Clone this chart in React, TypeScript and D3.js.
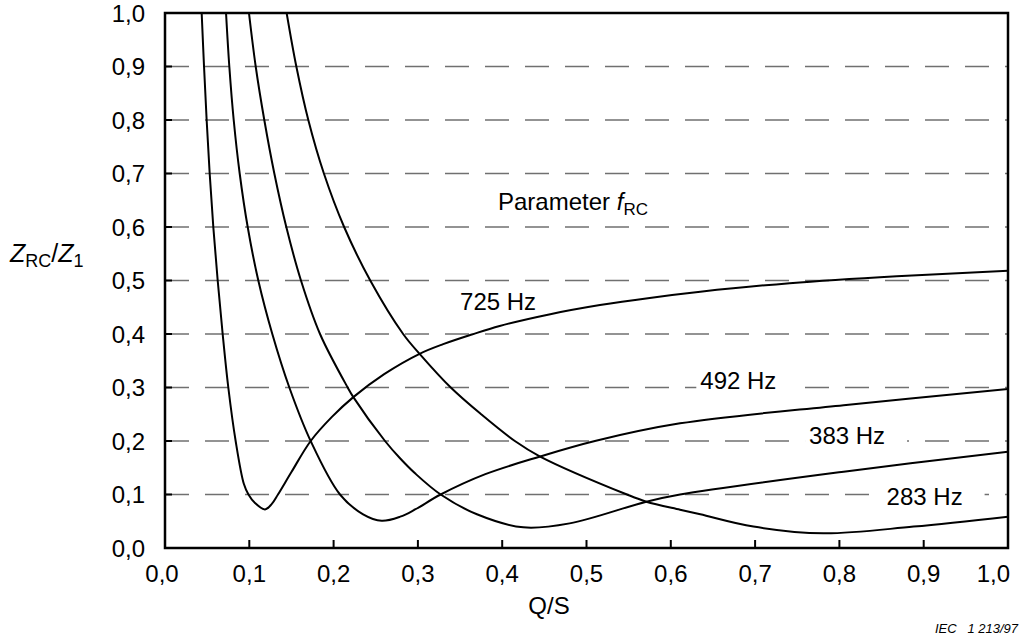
import React from 'react';
import * as d3 from 'd3';

// Q/S values and Z_RC/Z_1 values for each ripple-control frequency
const q725 = [0.0435, 0.0463, 0.0494, 0.053, 0.0573, 0.0625, 0.0684, 0.0751, 0.0838, 0.0935, 0.099, 0.1068, 0.1186, 0.1265, 0.134, 0.15, 0.1728, 0.198, 0.2234, 0.26, 0.302, 0.33, 0.364, 0.397, 0.457, 0.516, 0.575, 0.635, 0.741, 0.868, 1.0];
const z725 = [1.0, 0.9, 0.8, 0.7, 0.6, 0.5, 0.4, 0.3, 0.2, 0.12, 0.1, 0.084, 0.072, 0.082, 0.1, 0.142, 0.2, 0.245, 0.282, 0.325, 0.363, 0.381, 0.399, 0.415, 0.437, 0.454, 0.4675, 0.479, 0.495, 0.508, 0.518];

const q492 = [0.0724, 0.0763, 0.0815, 0.0886, 0.0981, 0.1107, 0.1273, 0.1475, 0.1728, 0.2076, 0.235, 0.257, 0.279, 0.2966, 0.327, 0.38, 0.445, 0.51, 0.611, 0.805, 1.0];
const z492 = [1.0, 0.9, 0.8, 0.7, 0.6, 0.5, 0.4, 0.3, 0.2, 0.1, 0.063, 0.051, 0.0586, 0.072, 0.1, 0.138, 0.171, 0.2, 0.233, 0.267, 0.297];

const q383 = [0.0996, 0.1076, 0.1178, 0.1297, 0.1439, 0.1613, 0.1839, 0.2167, 0.2234, 0.261, 0.2788, 0.2966, 0.327, 0.37, 0.425, 0.48, 0.571, 0.611, 0.805, 1.0];
const z383 = [1.0, 0.9, 0.8, 0.7, 0.6, 0.5, 0.4, 0.3, 0.282, 0.2, 0.1677, 0.1396, 0.1, 0.063, 0.0386, 0.046, 0.0866, 0.1, 0.1427, 0.18];

const q283 = [0.1443, 0.1558, 0.17, 0.1885, 0.2125, 0.2435, 0.2825, 0.302, 0.339, 0.375, 0.415, 0.445, 0.548, 0.571, 0.611, 0.635, 0.698, 0.781, 0.888, 1.0];
const z283 = [1.0, 0.9, 0.8, 0.7, 0.6, 0.5, 0.4, 0.363, 0.3, 0.25, 0.2, 0.171, 0.1, 0.0866, 0.0715, 0.063, 0.04, 0.0274, 0.04, 0.0586];

const series = [
  { name: '725 Hz', q: q725, z: z725, lq: 0.35, lz: 0.445 },
  { name: '492 Hz', q: q492, z: z492, lq: 0.635, lz: 0.297 },
  { name: '383 Hz', q: q383, z: z383, lq: 0.764, lz: 0.194 },
  { name: '283 Hz', q: q283, z: z283, lq: 0.856, lz: 0.08 },
];

const xTicks = [0, 0.1, 0.2, 0.3, 0.4, 0.5, 0.6, 0.7, 0.8, 0.9, 1.0];
const yTicks = [0, 0.1, 0.2, 0.3, 0.4, 0.5, 0.6, 0.7, 0.8, 0.9, 1.0];

const font = '"Liberation Sans", Arial, Helvetica, sans-serif';
const fmt = (v: number) => v.toFixed(1).replace('.', ',');

export default function App() {
  const W = 1023, H = 636;
  const m = { left: 165, right: 1008, top: 13, bottom: 548 };
  const x = d3.scaleLinear().domain([0, 1]).range([m.left, m.right]);
  const y = d3.scaleLinear().domain([0, 1]).range([m.bottom, m.top]);
  const line = d3.line<[number, number]>()
    .x(d => x(d[0]))
    .y(d => y(d[1]))
    .curve(d3.curveCatmullRom.alpha(0.5));

  const fs = 24;

  return (
    <svg width={W} height={H} style={{ position: 'absolute', left: 0, top: 0, display: 'block', background: '#fff' }}
      fontFamily={font}>
      <defs>
        <clipPath id="plot">
          <rect x={m.left} y={m.top} width={m.right - m.left} height={m.bottom - m.top} />
        </clipPath>
      </defs>

      {/* dashed grid */}
      {yTicks.filter(t => t > 0 && t < 1).map(t => (
        <line key={'g' + t} x1={m.left} x2={m.right} y1={y(t)} y2={y(t)}
          stroke="#707070" strokeWidth={1.4} strokeDasharray="24 16" />
      ))}

      {/* curve labels on a white backing */}
      {series.map(s => (
        <g key={s.name}>
          <rect x={x(s.lq) - 4} y={y(s.lz) - 20} width={102} height={25} fill="#fff" />
          <text x={x(s.lq)} y={y(s.lz)} fontSize={fs} fill="#000">{s.name}</text>
        </g>
      ))}
      <text x={x(0.395)} y={y(0.632)} fontSize={fs} fill="#000">
        Parameter <tspan fontStyle="italic">f</tspan><tspan fontSize={17} dy={5}>RC</tspan>
      </text>

      {/* curves */}
      <g clipPath="url(#plot)">
        {series.map(s => (
          <path key={'c' + s.name} d={line(s.q.map((q, i) => [q, s.z[i]] as [number, number])) || ''}
            fill="none" stroke="#000" strokeWidth={2} />
        ))}
      </g>

      {/* frame */}
      <rect x={m.left} y={m.top} width={m.right - m.left} height={m.bottom - m.top}
        fill="none" stroke="#000" strokeWidth={2.5} />

      {/* ticks */}
      {yTicks.filter(t => t > 0 && t < 1).map(t => (
        <line key={'yt' + t} x1={m.left} x2={m.left + 7} y1={y(t)} y2={y(t)} stroke="#000" strokeWidth={2} />
      ))}
      {xTicks.filter(t => t > 0 && t < 1).map(t => (
        <line key={'xt' + t} x1={x(t)} x2={x(t)} y1={m.bottom} y2={m.bottom - 8} stroke="#000" strokeWidth={2} />
      ))}

      {/* tick labels */}
      {yTicks.map(t => (
        <text key={'yl' + t} x={m.left - 20} y={y(t) + 8.5} textAnchor="end" fontSize={fs}>{fmt(t)}</text>
      ))}
      {xTicks.map(t => (
        <text key={'xl' + t} x={t === 1 ? x(t) + 2 : x(t) - (t === 0 ? 3 : 0)} y={582}
          textAnchor={t === 1 ? 'end' : 'middle'} fontSize={fs}>{fmt(t)}</text>
      ))}

      {/* axis titles */}
      <text x={549} y={614} textAnchor="middle" fontSize={fs}>Q/S</text>
      <text x={10} y={262} fontSize={25}>
        <tspan fontStyle="italic">Z</tspan>
        <tspan fontSize={18} dy={5}>RC</tspan>
        <tspan dy={-5}>/</tspan>
        <tspan fontStyle="italic">Z</tspan>
        <tspan fontSize={18} dy={5}>1</tspan>
      </text>

      <text x={1018} y={633} textAnchor="end" fontSize={13} fontStyle="italic" xmlSpace="preserve">IEC   1 213/97</text>
    </svg>
  );
}
